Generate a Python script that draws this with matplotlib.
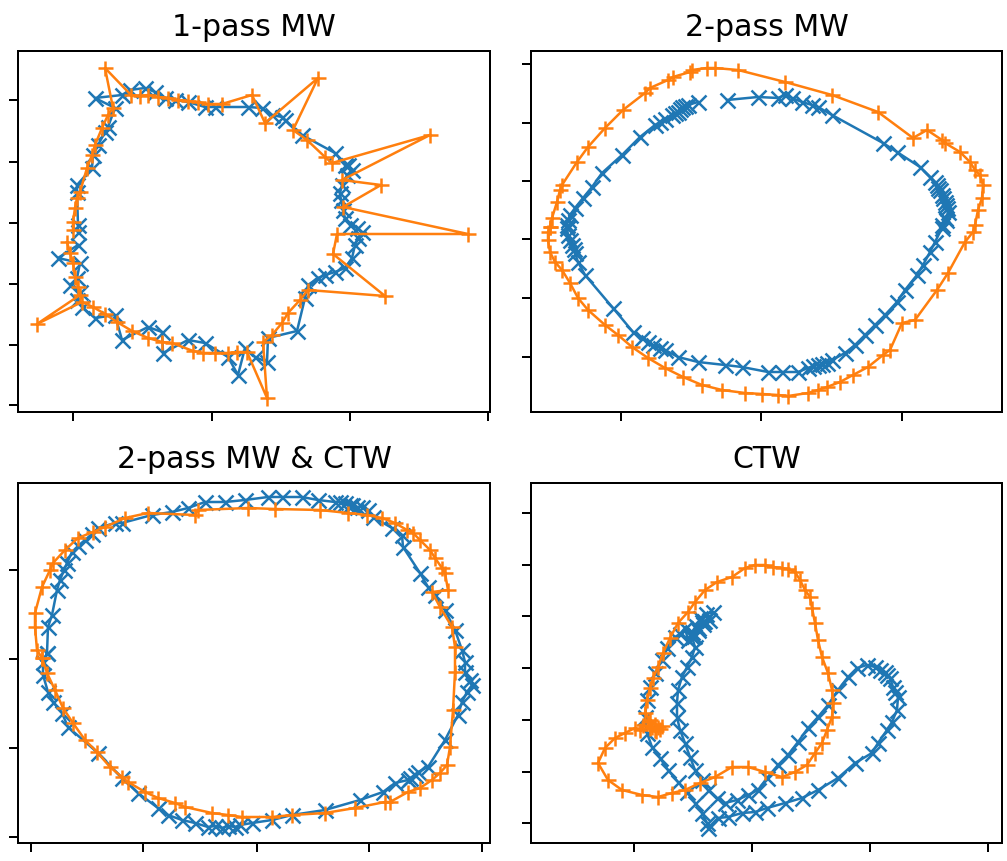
import matplotlib
matplotlib.use("Agg")
import matplotlib.pyplot as plt

# ---------------- data ----------------
TITLES = ["1-pass MW", "2-pass MW", "2-pass MW & CTW", "CTW"]

# Panel 1 : 1-pass MW
P1_BLUE_X = [78, 78, 77, 77, 92, 93, 98, 105, 108, 115, 95, 122, 130, 145, 155, 165, 175, 188, 205, 215,
             248, 262, 272, 282, 285, 302, 335, 345, 348, 352, 347, 342, 340, 341, 343, 345, 350, 357,
             362, 358, 355, 352, 345, 335, 325, 318, 308, 305, 297, 268, 267, 255, 245, 238, 228, 205,
             188, 163, 162, 148, 122, 115, 95, 82, 77, 80, 70, 77, 80, 58, 78]
P1_BLUE_Y = [232, 225, 192, 185, 168, 155, 145, 132, 127, 108, 98, 95, 90, 88, 92, 98, 100, 102, 107, 107,
             107, 108, 115, 117, 120, 135, 153, 165, 165, 170, 175, 185, 193, 200, 210, 218, 225, 228,
             232, 238, 245, 258, 268, 272, 275, 278, 285, 298, 331, 338, 362, 357, 348, 375, 357, 343,
             340, 353, 332, 327, 340, 315, 318, 307, 300, 292, 285, 278, 263, 258, 245]
P1_ORANGE_X = [73, 73, 75, 77, 80, 87, 92, 95, 102, 108, 113, 105, 131, 140, 148, 158, 168, 178, 188, 198,
               208, 222, 252, 265, 318, 293, 307, 325, 332, 430, 342, 381, 343, 468, 337, 333, 385, 308,
               300, 288, 282, 272, 263, 267, 247, 237, 228, 215, 203, 193, 172, 162, 148, 132, 117, 105,
               93, 82, 37, 80, 78, 75, 73, 70, 67]
P1_ORANGE_Y = [230, 222, 208, 198, 192, 168, 155, 145, 128, 115, 108, 68, 95, 96, 95, 97, 98, 100, 101, 102,
               104, 104, 95, 123, 78, 130, 140, 157, 163, 135, 180, 185, 207, 234, 234, 254, 296, 290,
               300, 313, 323, 335, 342, 398, 352, 352, 353, 353, 353, 351, 343, 342, 338, 331, 322, 314,
               307, 302, 324, 295, 287, 277, 263, 253, 242]

# Panel 2 : 2-pass MW
P2_BLUE_X = [727, 758, 778, 785, 792, 802, 812, 818, 832, 883, 897, 920, 930, 935, 937, 938, 940, 942, 943,
             945, 946, 947, 948, 946, 945, 942, 942, 935, 930, 923, 917, 905, 897, 885, 875, 865, 855, 845,
             832, 827, 822, 818, 813, 808, 798, 782, 768, 742, 725, 698, 678, 665, 660, 653, 648, 642,
             633, 613, 585, 578, 575, 574, 572, 570, 568, 567, 567, 568, 570, 575, 583, 592, 602, 622,
             640, 655, 660, 665, 672, 675, 678, 680, 682, 685, 688, 698]
P2_BLUE_Y = [100, 97, 98, 95, 98, 102, 105, 107, 115, 143, 152, 167, 177, 182, 185, 188, 190, 195, 198,
             202, 205, 208, 212, 220, 218, 225, 228, 242, 252, 265, 275, 290, 302, 315, 325, 335, 345, 353,
             360, 363, 364, 365, 366, 368, 372, 372, 372, 367, 365, 362, 357, 350, 348, 345, 342, 338,
             332, 308, 275, 262, 253, 249, 245, 240, 235, 228, 225, 220, 215, 208, 198, 187, 173, 155,
             137, 125, 122, 119, 115, 113, 112, 109, 107, 106, 105, 102]
P2_ORANGE_X = [550, 552, 557, 560, 562, 577, 588, 605, 623, 645, 650, 668, 673, 690, 692, 707, 715, 738,
               785, 832, 878, 913, 927, 942, 945, 960, 970, 975, 980, 983, 982, 978, 975, 973, 965, 948,
               937, 915, 902, 890, 883, 868, 853, 840, 827, 818, 808, 788, 778, 762, 745, 722, 702, 683,
               665, 648, 632, 618, 605, 588, 578, 570, 562, 555, 550, 548, 548, 550]
P2_ORANGE_Y = [227, 218, 202, 190, 185, 162, 147, 128, 110, 93, 88, 80, 77, 72, 70, 68, 68, 70,
               82, 95, 112, 138, 130, 140, 143, 152, 162, 170, 175, 185, 198, 210, 225, 232, 242, 273,
               290, 320, 323, 350, 355, 367, 375, 382, 387, 390, 393, 396, 395, 394, 393, 390, 385, 377,
               368, 358, 347, 335, 325, 310, 298, 283, 270, 262, 252, 240, 232, 227]

# Panel 3 : 2-pass MW & CTW
P3_BLUE_X = [47, 48, 52, 57, 60, 64, 67, 72, 78, 85, 92, 98, 115, 122, 152, 172, 188, 205, 225, 245, 268,
             282, 302, 318, 335, 340, 345, 350, 352, 357, 362, 368, 373, 392, 402, 403, 420, 428, 435, 445,
             455, 462, 465, 465, 470, 472, 467, 462, 458, 445, 428, 418, 415, 410, 408, 395, 383, 360,
             325, 292, 272, 252, 240, 235, 228, 222, 215, 208, 195, 182, 168, 158, 138, 122, 98, 68,
             62, 53, 48, 43, 43, 47]
P3_BLUE_Y = [653, 627, 615, 590, 580, 570, 563, 552, 546, 540, 534, 528, 523, 523, 515, 512, 508, 502, 502,
             500, 497, 497, 497, 500, 502, 502, 503, 505, 505, 507, 507, 510, 517, 528, 535, 547, 573, 587,
             595, 610, 630, 650, 662, 672, 680, 685, 692, 702, 715, 740, 767, 772, 775, 778, 780, 783,
             792, 800, 810, 815, 820, 823, 825, 827, 826, 828, 826, 827, 823, 820, 815, 808, 793, 778,
             753, 727, 713, 702, 692, 675, 662, 653]
P3_ORANGE_X = [42, 37, 35, 35, 42, 50, 53, 65, 78, 93, 105, 125, 148, 195, 198, 248, 275, 320, 348, 367,
               382, 395, 407, 413, 420, 430, 435, 442, 445, 448, 432, 440, 452, 455, 455, 453, 450, 447,
               440, 432, 420, 408, 390, 385, 355, 325, 292, 272, 242, 228, 212, 185, 175, 158, 145, 128,
               122, 110, 97, 85, 73, 63, 55, 47, 42]
P3_ORANGE_Y = [658, 650, 627, 613, 587, 570, 563, 550, 538, 532, 527, 518, 513, 515, 510, 508, 509, 510, 513,
               515, 518, 523, 530, 533, 540, 550, 558, 568, 573, 590, 592, 607, 627, 647, 672, 710, 747,
               765, 773, 780, 788, 792, 802, 802, 808, 813, 815, 817, 817, 815, 813, 807, 803, 798, 792,
               782, 777, 767, 752, 740, 723, 708, 690, 673, 658]

# Panel 4 : CTW
P4_BLUE_X = [700, 706, 713, 709, 702, 696, 692, 698, 703, 694, 688, 685, 680, 675, 667, 662, 655, 650,
             647, 645, 647, 652, 660, 668, 678, 687, 695, 702, 707, 708, 718, 728, 742, 755, 767, 785,
             802, 818, 838, 855, 872, 878, 887, 892, 897, 898, 895, 893, 890, 887, 885, 880, 875, 867,
             857, 848, 838, 828, 818, 808, 798, 788, 778, 767, 758, 748, 737, 725, 717, 708, 702, 695,
             690, 685, 680, 677, 677, 678, 682, 687, 692, 695, 692, 698, 704]
P4_BLUE_Y = [618, 614, 612, 620, 622, 626, 632, 628, 624, 636, 640, 628, 634, 637, 648, 660, 673, 687,
             700, 717, 733, 747, 758, 770, 782, 792, 803, 813, 823, 828, 818, 817, 813, 812, 808, 803,
             798, 790, 778, 763, 753, 743, 730, 722, 710, 697, 692, 687, 678, 675, 672, 670, 667, 665,
             668, 677, 690, 705, 717, 728, 742, 755, 765, 778, 790, 795, 800, 803, 798, 790, 780, 770,
             757, 743, 730, 717, 703, 690, 677, 667, 657, 647, 637, 630, 621]
P4_ORANGE_X = [652, 648, 655, 660, 650, 645, 647, 650, 653, 658, 663, 670, 678, 688, 695, 705, 717, 732,
               745, 755, 765, 773, 782, 788, 795, 800, 805, 810, 812, 815, 818, 822, 828, 832, 833, 832,
               827, 822, 815, 807, 795, 782, 765, 748, 732, 715, 700, 685, 672, 658, 642, 622, 608, 598,
               605, 615, 625, 635, 640, 643, 650, 656, 658, 662, 655]
P4_ORANGE_Y = [727, 722, 724, 729, 720, 713, 700, 688, 678, 667, 653, 638, 623, 612, 602, 590, 582, 577,
               568, 565, 565, 567, 568, 569, 572, 580, 590, 597, 608, 623, 640, 657, 673, 690, 703, 717,
               730, 743, 753, 765, 772, 777, 772, 767, 767, 777, 783, 790, 793, 797, 795, 790, 780, 763,
               748, 738, 733, 728, 730, 725, 728, 731, 727, 726, 730]

PANELS = [
    (P1_BLUE_X, P1_BLUE_Y, P1_ORANGE_X, P1_ORANGE_Y),
    (P2_BLUE_X, P2_BLUE_Y, P2_ORANGE_X, P2_ORANGE_Y),
    (P3_BLUE_X, P3_BLUE_Y, P3_ORANGE_X, P3_ORANGE_Y),
    (P4_BLUE_X, P4_BLUE_Y, P4_ORANGE_X, P4_ORANGE_Y),
]

# axis ranges and (unlabelled) tick positions
XLIMS = [(18, 490), (531, 1002), (18, 490), (531, 1002)]
YLIMS = [(412, 51), (412, 51), (843, 483), (843, 483)]
XTICKS = [[73, 212, 350, 488], [621, 761, 902], [31, 143, 257, 369, 482], [634, 752, 870, 988]]
YTICKS = [[100, 162, 223, 284, 345, 405], [64, 123, 181, 239, 298, 357],
          [570, 659, 748, 837], [513, 565, 616, 668, 720, 772, 823]]

# ---------------- figure ----------------
W, H = 1008, 861
DPI = 180
fig = plt.figure(figsize=(W / DPI, (H + 0.01) / DPI), dpi=DPI)

# axes boxes in pixels: left, top, right, bottom
BOXES = [(18, 51, 490, 412), (531, 51, 1002, 412), (18, 483, 490, 843), (531, 483, 1002, 843)]

for i, (bx, by, ox, oy) in enumerate(PANELS):
    l, t, r, b = BOXES[i]
    ax = fig.add_axes([l / W, (H - b) / H, (r - l) / W, (b - t) / H])
    ax.plot(bx, by, marker="x", color="#1f77b4", lw=1.0, ms=6)
    ax.plot(ox, oy, marker="+", color="#ff7f0e", lw=1.0, ms=6)
    ax.set_xlim(*XLIMS[i])
    ax.set_ylim(*YLIMS[i])
    ax.set_xticks(XTICKS[i])
    ax.set_yticks(YTICKS[i])
    ax.tick_params(labelbottom=False, labelleft=False)
    ax.set_title(TITLES[i], fontsize=12)

fig.savefig("out.png", dpi=DPI)
